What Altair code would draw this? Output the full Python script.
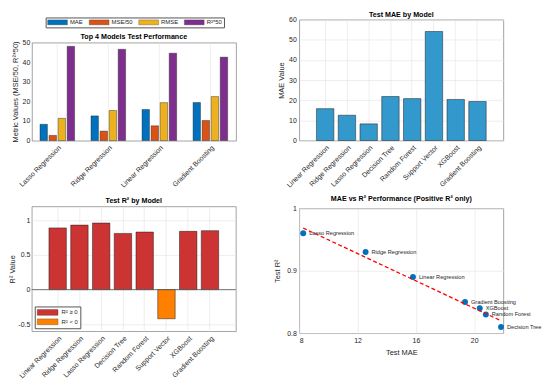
import altair as alt
import pandas as pd
import numpy as np

FONT = "Liberation Sans"
TXT = "#262626"
FRAME = "#8c8c8c"
GRID = "#e3e3e3"

# ---- Panel 1: top 4 models ----
top4_models = ["Lasso Regression", "Ridge Regression", "Linear Regression", "Gradient Boosting"]
top4_mae = [8.27, 12.55, 15.8, 19.37]
top4_mse50 = [2.6, 4.8, 7.5, 10.2]
top4_rmse = [11.3, 15.3, 19.3, 22.4]
top4_r2x50 = [48.0, 46.5, 44.5, 42.5]
metric_names = ["MAE", "MSE/50", "RMSE", "R²*50"]
metric_colors = ["#0072BD", "#D95319", "#EDB120", "#7E2F8E"]
p1_domain = [0, 50]

# ---- Panels 2-4: all models ----
models = ["Linear Regression", "Ridge Regression", "Lasso Regression", "Decision Tree",
          "Random Forest", "Support Vector", "XGBoost", "Gradient Boosting"]
test_mae = [15.8, 12.55, 8.27, 21.84, 20.8, 54.1, 20.38, 19.37]
test_r2 = [0.89, 0.93, 0.96, 0.81, 0.83, -0.42, 0.84, 0.85]
sign_names = ["R² ≥ 0", "R² < 0"]
sign_colors = ["#CC3333", "#FF8000"]

rows = []
for i, m in enumerate(top4_models):
    for name, vals in zip(metric_names, [top4_mae, top4_mse50, top4_rmse, top4_r2x50]):
        rows.append({"Model": m, "Metric": name, "Value": vals[i]})
df1 = pd.DataFrame(rows)
df1_models = pd.DataFrame({"Model": top4_models})

df2 = pd.DataFrame({"Model": models, "MAE": test_mae, "R2": test_r2})
df2["Sign"] = [sign_names[0] if v >= 0 else sign_names[1] for v in test_r2]
df4 = df2[df2["R2"] > 0].reset_index(drop=True)

coef = np.polyfit(df4["MAE"], df4["R2"], 1)
xs = [df4["MAE"].min(), df4["MAE"].max()]
df_trend = pd.DataFrame({"MAE": xs, "R2": [coef[0] * x + coef[1] for x in xs]})


def title(t, offset=2):
    return alt.TitleParams(t, fontSize=7.2, fontWeight="bold", font=FONT, color="#000", offset=offset)


rot_axis = dict(labelAngle=-45, bandPosition=0.5, grid=True, title=None, labelFontSize=7)
MINUS = "datum.value < 0 ? '-' + format(-datum.value, '~g') : format(datum.value, '~g')"

# ---------------- Panel 1 ----------------
# Row heights are shared with panel 2, so panel 1's framed area uses the lower part of its view
H_TOP = 122          # view height shared with panel 2
H_P1 = 99            # framed plot height of panel 1
x1 = alt.X("Model:N", sort=top4_models,
           scale=alt.Scale(paddingInner=0.29, paddingOuter=0.145),
           axis=alt.Axis(labelAngle=-45, bandPosition=0.5, grid=False, title=None, labelFontSize=7,
                         domain=True, domainColor=FRAME, domainWidth=0.8))
grid1 = alt.Chart(df1_models).mark_rule(color=GRID, strokeWidth=0.6).encode(
    x=x1,
    y=alt.YDatum(p1_domain[0], axis=alt.Axis(orient="right", values=[p1_domain[1]], labels=False,
                                             ticks=False, grid=True, gridColor=FRAME, gridWidth=0.8,
                                             domain=True, domainColor=FRAME, domainWidth=0.8,
                                             title=None)),
    y2=alt.Y2Datum(p1_domain[1]),
)
bars1 = alt.Chart(df1).mark_bar(stroke="#1a1a1a", strokeWidth=0.4).encode(
    x=x1,
    xOffset=alt.XOffset("Metric:N", sort=metric_names,
                        scale=alt.Scale(paddingInner=0.18, paddingOuter=0.09)),
    y=alt.Y("Value:Q", scale=alt.Scale(domain=p1_domain, range=[H_TOP, H_TOP - H_P1]),
            axis=alt.Axis(values=[0, 10, 20, 30, 40, 50], title="Metric Values (MSE/50, R²*50)",
                          labelPadding=2, titlePadding=3, domain=True, domainColor=FRAME,
                          domainWidth=0.8)),
    color=alt.Color("Metric:N", sort=metric_names,
                    scale=alt.Scale(domain=metric_names, range=metric_colors),
                    legend=alt.Legend(orient="none", legendX=14, legendY=-2.2, direction="horizontal",
                                      title=None, symbolType="M-4,-1H4V1H-4Z", symbolSize=25,
                                      symbolOffset=7.5, labelOffset=9.5,
                                      symbolStrokeColor="#333", symbolStrokeWidth=0.3,
                                      labelFontSize=6, labelFont=FONT, labelColor=TXT,
                                      strokeColor="#555", fillColor="white", padding=1.5,
                                      columnPadding=4)),
)
p1 = alt.layer(grid1, bars1, title=title("Top 4 Models Test Performance", offset=-23.5)).resolve_axis(
    y="independent").properties(width=206, height=H_TOP, view=alt.ViewBackground(stroke="transparent"))

# ---------------- Panel 2 ----------------
p2 = alt.Chart(df2, title=title("Test MAE by Model", offset=-2.5)).mark_bar(
    color="#3399CC", stroke="#1a1a1a", strokeWidth=0.5
).encode(
    x=alt.X("Model:N", sort=models, scale=alt.Scale(paddingInner=0.2, paddingOuter=0.79),
            axis=alt.Axis(**rot_axis)),
    y=alt.Y("MAE:Q", scale=alt.Scale(domain=[0, 60]),
            axis=alt.Axis(values=[0, 10, 20, 30, 40, 50, 60], title="MAE Value", titlePadding=3)),
).properties(width=206, height=H_TOP)

# ---------------- Panel 3 ----------------
bars3 = alt.Chart(df2).mark_bar(stroke="#1a1a1a", strokeWidth=0.5).encode(
    x=alt.X("Model:N", sort=models, scale=alt.Scale(paddingInner=0.2, paddingOuter=0.79),
            axis=alt.Axis(**rot_axis)),
    y=alt.Y("R2:Q", scale=alt.Scale(domain=[-0.5, 1.1]),
            axis=alt.Axis(values=[-0.5, 0, 0.5, 1], labelExpr=MINUS, title="R² Value",
                          labelPadding=2, titlePadding=1)),
    color=alt.Color("Sign:N", scale=alt.Scale(domain=sign_names, range=sign_colors),
                    legend=alt.Legend(orient="none", legendX=3, legendY=101, direction="vertical",
                                      title=None, symbolType="M-3,-0.85H3V0.85H-3Z", symbolSize=49,
                                      symbolOffset=7, labelOffset=10,
                                      symbolStrokeColor="#333", symbolStrokeWidth=0.3,
                                      labelFontSize=6, labelFont=FONT, labelColor=TXT,
                                      strokeColor="#555", fillColor="white", padding=2,
                                      rowPadding=1.5)),
)
zero3 = alt.Chart(pd.DataFrame({"k": [0]})).mark_rule(color="#555", strokeWidth=0.8).encode(
    y=alt.datum(0))
p3 = alt.layer(bars3, zero3, title=title("Test R² by Model")).properties(width=206, height=126)

# ---------------- Panel 4 ----------------
base4 = alt.Chart(df4).encode(
    x=alt.X("MAE:Q", scale=alt.Scale(domain=[8, 22]),
            axis=alt.Axis(values=list(range(8, 23, 2)), title="Test MAE", titlePadding=5)),
    y=alt.Y("R2:Q", scale=alt.Scale(domain=[0.8, 1]),
            axis=alt.Axis(values=[0.8, 0.85, 0.9, 0.95, 1], format="~g", title="Test R²",
                          titlePadding=5)),
)
pts4 = base4.mark_circle(size=36, color="#0072BD", opacity=1)
lab4 = base4.mark_text(align="left", dx=6, fontSize=5.7, font=FONT, color=TXT).encode(text="Model:N")
trend4 = alt.Chart(df_trend).mark_line(color="#FF0000", strokeDash=[4, 2.5], strokeWidth=1.3).encode(
    x="MAE:Q", y="R2:Q")
p4 = alt.layer(pts4, lab4, trend4, title=title("MAE vs R² Performance (Positive R² only)")).properties(
    width=206, height=126)

left = alt.vconcat(p1, p3, spacing=7.5).resolve_scale(color="independent")
right = alt.vconcat(p2, p4, spacing=5.5)

chart = alt.hconcat(left, right, spacing=36).resolve_scale(color="independent").properties(
    padding=0
).configure_view(
    stroke=FRAME, strokeWidth=0.8
).configure_axis(
    labelFont=FONT, titleFont=FONT, labelFontSize=7, titleFontSize=7.5,
    labelColor=TXT, titleColor=TXT, titleFontWeight="normal", labelOverlap=False,
    domain=False, ticks=False, gridColor=GRID, gridWidth=0.6,
    labelPadding=3, titlePadding=4
)

chart.save("out.html", embed_options={"renderer": "svg", "actions": False})
